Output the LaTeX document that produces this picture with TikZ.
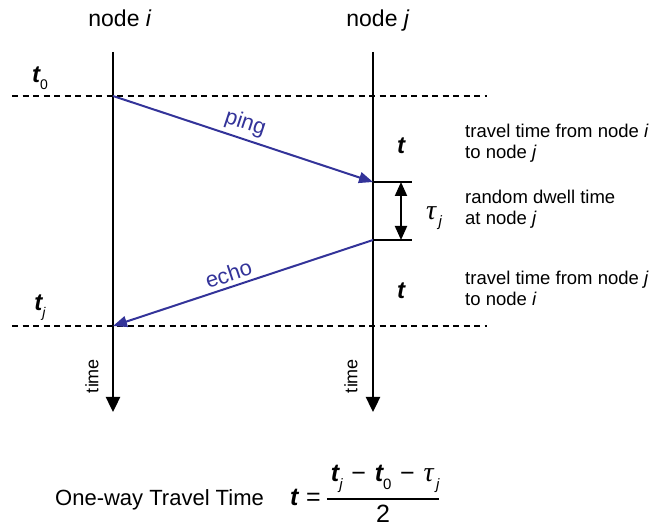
\documentclass[tikz,border=0pt]{standalone}
\usepackage{amsmath}
\usepackage{fontspec}
\setmainfont{Liberation Sans}
\newfontfamily\tauserif{Liberation Serif}
\usetikzlibrary{arrows.meta}
\definecolor{msgblue}{RGB}{51,51,153}
\newcommand\tb{{\bfseries\itshape t}}
\newcommand\lsub[2]{\raisebox{-0.3em}{\fontsize{#1}{#1}\selectfont #2}}
\newcommand\tauj[2]{{\tauserif\itshape\fontsize{#1}{#1}\selectfont τ}\lsub{#2}{\itshape\,j}}
\newcommand\mminus{\hspace{0.35em}−\hspace{0.35em}}
\begin{document}
\begin{tikzpicture}[x=1pt,y=-1pt,
  timeline/.style={line width=2.4pt,-{Triangle[width=14pt,length=15pt]}},
  msg/.style={draw=msgblue,line width=2pt,-{Triangle[width=11pt,length=14pt]}},
  msglabel/.style={text=msgblue,font=\fontsize{22}{26}\selectfont,sloped,above,inner sep=4pt},
  guide/.style={line width=1.4pt,dash pattern=on 6pt off 4.5pt},
  tick/.style={line width=1.6pt},
  dwell/.style={line width=2pt,{Triangle[width=12pt,length=14pt]}-{Triangle[width=12pt,length=14pt]}},
  head/.style={font=\fontsize{23}{27}\selectfont,anchor=base},
  side/.style={font=\fontsize{18.5}{21}\selectfont,align=left,anchor=west,inner sep=0pt},
  tlab/.style={font=\fontsize{24}{28}\selectfont,inner sep=0pt},
  timelab/.style={font=\fontsize{18}{22}\selectfont,rotate=90,inner sep=0pt}]
\useasboundingbox (0,0) rectangle (659,529);
% coordinates
\coordinate (itop) at (113,52);
\coordinate (ibot) at (113,412);
\coordinate (jtop) at (373,52);
\coordinate (jbot) at (373,412);
\coordinate (p0) at (113,96);
\coordinate (p1) at (373,182);
\coordinate (p2) at (373,240);
\coordinate (p3) at (113,326);
\coordinate (d0l) at (12,96);
\coordinate (d0r) at (487,96);
\coordinate (d1l) at (12,326);
\coordinate (d1r) at (487,326);
\coordinate (k1) at (412,182);
\coordinate (k2) at (412,240);
\coordinate (a1) at (401,182);
\coordinate (a2) at (401,240);
% headers
\node[head] (hi) at (120,27) {node \textit{i}};
\node[head] (hj) at (378,27) {node \textit{j}};
% dashed guides
\draw[guide] (d0l) -- (d0r);
\draw[guide] (d1l) -- (d1r);
% timelines
\draw[timeline] (itop) -- (ibot);
\draw[timeline] (jtop) -- (jbot);
% messages
\draw[msg] (p0) -- node[msglabel,pos=0.49] (ping) {ping} (p1);
\draw[msg] (p2) -- node[msglabel,pos=0.54] (echo) {echo} (p3);
% dwell
\draw[tick] (p1) -- (k1);
\draw[tick] (p2) -- (k2);
\draw[dwell] (a1) -- (a2);
% labels
\node[tlab] (t0) at (40,78) {\tb\lsub{14}{0}};
\node[tlab] (tj) at (40,308) {\tb\lsub{14}{\itshape j}};
\node[tlab,font=\fontsize{24}{28}\selectfont] (t1) at (401,146) {\tb};
\node[tlab,font=\fontsize{24}{28}\selectfont] (t2) at (401,291) {\tb};
\node[tlab] (tau) at (434,218) {\tauj{28}{15}};
\node[side] (s1) at (465,143) {travel time from node \textit{i}\\to node \textit{j}};
\node[side] (s2) at (465,209) {random dwell time\\at node \textit{j}};
\node[side] (s3) at (465,288) {travel time from node \textit{j}\\to node \textit{i}};
\node[timelab] (time1) at (92,376) {time};
\node[timelab] (time2) at (351,376) {time};
% bottom
\node[anchor=base west,inner sep=0pt,font=\fontsize{22}{26}\selectfont] (owt) at (55,505) {One-way Travel Time};
\node[anchor=base west,inner sep=0pt,font=\fontsize{25}{30}\selectfont] (formula) at (290,505)
  {\tb\hspace{0.3em}=\hspace{0.2em}$\genfrac{}{}{1.8pt}{0}{\mbox{\,\tb\lsub{15}{\itshape j}\mminus\tb\lsub{15}{0}\mminus\tauj{28}{15}}}{\mbox{2}}$};
\end{tikzpicture}
\end{document}
